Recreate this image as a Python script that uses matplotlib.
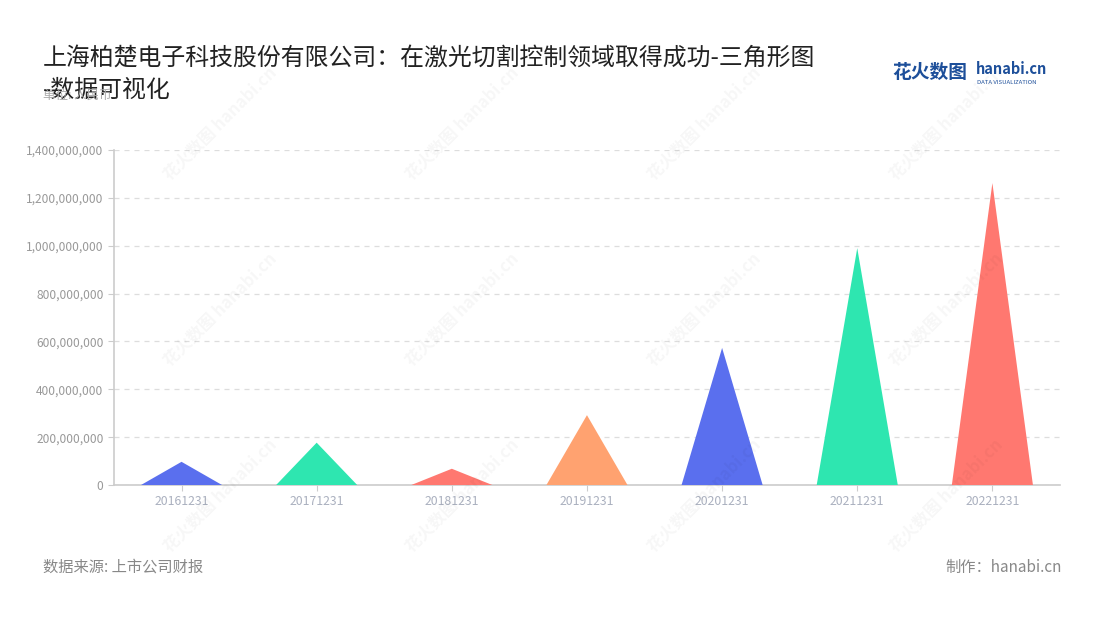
import matplotlib
matplotlib.use('Agg')
import matplotlib.pyplot as plt
from matplotlib.ticker import FuncFormatter

plt.rcParams['font.family'] = ['Noto Sans CJK SC', 'DejaVu Sans']

dates = ['20161231', '20171231', '20181231', '20191231', '20201231', '20211231', '20221231']
values = [97e6, 177e6, 68e6, 292e6, 573e6, 990e6, 1262e6]
colors = ['#5a6fee', '#2ee6b0', '#ff7870', '#ffa270', '#5a6fee', '#2ee6b0', '#ff7870']
yticks = [0, 200e6, 400e6, 600e6, 800e6, 1000e6, 1200e6, 1400e6]

title = '上海柏楚电子科技股份有限公司：在激光切割控制领域取得成功-三角形图\n-数据可视化'
unit = '单位: 人民币'
source = '数据来源: 上市公司财报'
maker = '制作：hanabi.cn'

fig = plt.figure(figsize=(11, 6.2), dpi=100)
ax = fig.add_axes([0.1036, 0.2177, 0.86, 0.5403])

half = 0.3
for i, (v, c) in enumerate(zip(values, colors)):
    ax.fill([i - half, i, i + half], [0, v, 0], color=c, lw=0, zorder=3)

ax.set_xlim(-0.5, len(dates) - 0.5)
ax.set_ylim(0, 1.4e9)
ax.set_yticks(yticks)
ax.yaxis.set_major_formatter(FuncFormatter(lambda v, p: f'{int(v):,}'))
ax.set_xticks(range(len(dates)))
ax.set_xticklabels(dates)
ax.grid(axis='y', ls=(0, (4, 4)), color='#dddddd', lw=0.9)
ax.set_axisbelow(True)
for s in ['top', 'right']:
    ax.spines[s].set_visible(False)
for s in ['left', 'bottom']:
    ax.spines[s].set_color('#cccccc')
    ax.spines[s].set_linewidth(1.2)
ax.tick_params(axis='y', colors='#cccccc', labelcolor='#999999', labelsize=8.6, length=4)
ax.tick_params(axis='x', colors='#cccccc', labelcolor='#aab0bf', labelsize=8.8, length=4)

# watermarks
for wx in [0.2, 0.42, 0.64, 0.86]:
    for wy in [0.8, 0.5, 0.2]:
        fig.text(wx, wy, '花火数图 hanabi.cn', rotation=45, fontsize=12, color='#000000',
                 alpha=0.035, ha='center', va='center', fontweight='bold')

fig.text(0.039, 0.925, title, fontsize=17.2, color='#222222', va='top', linespacing=1.5)
fig.text(0.039, 0.847, unit, fontsize=9, color='#aaaaaa', va='center')
fig.text(0.039, 0.085, source, fontsize=11, color='#888888', va='center')
fig.text(0.965, 0.085, maker, fontsize=11, color='#888888', va='center', ha='right')

fig.text(0.811, 0.883, '花火数图', fontsize=13.5, color='#1d4f9a', fontweight='bold', va='center')
fig.text(0.887, 0.889, 'hanabi.cn', fontsize=10.5, color='#1d4f9a', fontweight='bold', va='center')
fig.text(0.888, 0.867, 'DATA VISUALIZATION', fontsize=4.3, color='#1d4f9a', va='center')

fig.savefig('out.png', dpi=100, facecolor='white')
